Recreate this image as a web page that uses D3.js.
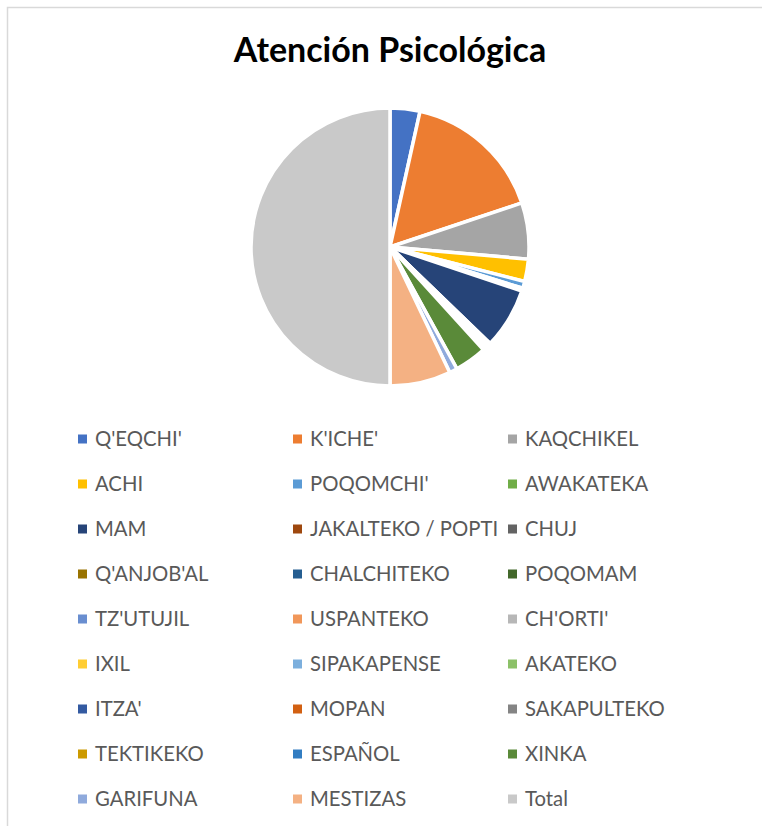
<!DOCTYPE html>
<html>
<head>
<meta charset="utf-8">
<script src="https://cdn.jsdelivr.net/npm/d3@7"></script>
<style>
  body { margin: 0; background: #fff; }
  #chart { width: 762px; height: 826px; }
</style>
</head>
<body>
<div id="chart"></div>
<script>
// Categories in the order of the sheet (legend order)
const categories = [
    "Q'EQCHI'", "K'ICHE'", "KAQCHIKEL",
    "ACHI", "POQOMCHI'", "AWAKATEKA",
    "MAM", "JAKALTEKO / POPTI", "CHUJ",
    "Q'ANJOB'AL", "CHALCHITEKO", "POQOMAM",
    "TZ'UTUJIL", "USPANTEKO", "CH'ORTI'",
    "IXIL", "SIPAKAPENSE", "AKATEKO",
    "ITZA'", "MOPAN", "SAKAPULTEKO",
    "TEKTIKEKO", "ESPAÑOL", "XINKA",
    "GARIFUNA", "MESTIZAS", "Total"
];

// Values (Total = sum of the rest)
const values = [
    52, 246, 98,
    39, 12, 5,
    106, 1, 1,
    1, 1, 1,
    1, 1, 1,
    1, 1, 1,
    1, 1, 1,
    1, 1, 56,
    14, 106, 750
];

// Office palette, one per category
const palette = [
    "#4472C4", "#ED7D31", "#A5A5A5", "#FFC000", "#5B9BD5", "#70AD47",
    "#264478", "#9E480E", "#636363", "#997300", "#255E91", "#43682B",
    "#698ED0", "#F1975A", "#B7B7B7", "#FFCD33", "#7CAFDD", "#8CC168",
    "#335AA1", "#D26012", "#848484", "#CC9A00", "#327DC2", "#5A8A39",
    "#8FAADC", "#F4B183", "#C9C9C9"
];

const data = categories.map((c, i) => ({ name: c, value: values[i] }));

const width = 762, height = 826;
const svg = d3.select("#chart")
    .append("svg")
    .attr("width", width)
    .attr("height", height);

// Chart frame
svg.append("rect")
    .attr("x", 7.5).attr("y", 7.5)
    .attr("width", 800).attr("height", 900)
    .attr("fill", "none")
    .attr("stroke", "#d9d9d9")
    .attr("stroke-width", 1.5);

// Title
svg.append("text")
    .attr("x", 390)
    .attr("y", 62)
    .attr("text-anchor", "middle")
    .attr("font-family", "Lato, 'Open Sans', sans-serif")
    .attr("font-weight", "bold")
    .attr("font-size", 34)
    .attr("fill", "#000")
    .text("Atención Psicológica");

// Pie
const cx = 390, cy = 247, radius = 139;
const pie = d3.pie().sort(null).value(d => d.value);
const arc = d3.arc().innerRadius(0).outerRadius(radius);

const g = svg.append("g").attr("transform", `translate(${cx},${cy})`);
g.selectAll("path")
    .data(pie(data))
    .enter()
    .append("path")
    .attr("d", arc)
    .attr("fill", (d, i) => palette[i])
    .attr("stroke", "#fff")
    .attr("stroke-width", 3.5)
    .attr("stroke-linejoin", "round");

// Legend: 3 columns
const colX = [78, 293, 508];
const rowY0 = 439, rowStep = 45;
const legend = svg.append("g");
const items = legend.selectAll("g")
    .data(data)
    .enter()
    .append("g")
    .attr("transform", (d, i) => `translate(${colX[i % 3]},${rowY0 + Math.floor(i / 3) * rowStep})`);

items.append("rect")
    .attr("x", 0).attr("y", -4.5)
    .attr("width", 9).attr("height", 9)
    .attr("fill", (d, i) => palette[i]);

items.append("text")
    .attr("x", 17)
    .attr("y", 0)
    .attr("dy", "0.35em")
    .attr("font-family", "Lato, 'Open Sans', sans-serif")
    .attr("font-size", 20.3)
    .attr("fill", "#595959")
    .text(d => d.name);
</script>
</body>
</html>
